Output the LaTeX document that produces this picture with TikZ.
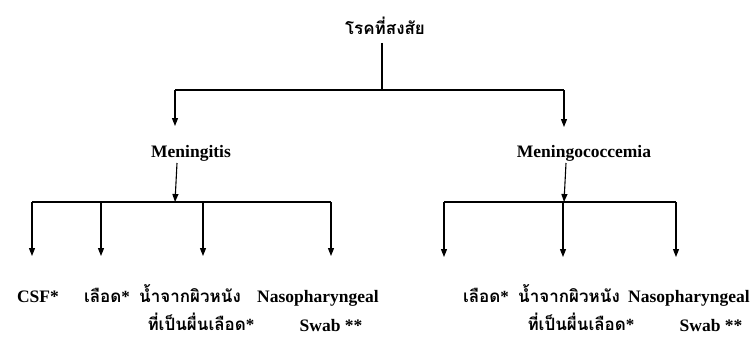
\documentclass[tikz,border=0pt]{standalone}
\usepackage{fontspec}
\setmainfont{Liberation Serif}
\newfontfamily\thai[Script=Thai]{Loma}
\newcommand{\myast}{{\rmfamily\bfseries *}}
\usetikzlibrary{arrows.meta}
\begin{document}
\begin{tikzpicture}[x=1pt,y=-1pt,
  conn/.style={line width=1.1pt},
  arr/.style={line width=1.1pt,-{Triangle[length=8pt,width=6pt]}},
  lat/.style={font=\fontsize{17.5}{20}\selectfont\bfseries, inner sep=0pt, anchor=base},
  th/.style={font=\fontsize{17}{19}\selectfont\thai\bfseries, inner sep=0pt, anchor=base}]
\useasboundingbox (0,0) rectangle (751,337);
% root
\node[th] (root) at (385,35) {โรคที่สงสัย};
\coordinate (rtop) at (382,43);
\coordinate (rj) at (382,90);
\coordinate (lj) at (175,90);
\coordinate (rrj) at (564,90);
\coordinate (ltip) at (175,126);
\coordinate (rtip) at (564,127);
\draw[conn] (rtop) -- (rj);
\draw[conn] (lj) -- (rrj);
\draw[arr] (lj) -- (ltip);
\draw[arr] (rrj) -- (rtip);
% level 2
\node[lat] (men) at (191,157) {Meningitis};
\node[lat] (mcc) at (584,157) {Meningococcemia};
\coordinate (mtop) at (177,163);
\coordinate (mbot) at (175,202);
\coordinate (ctop) at (566,163);
\coordinate (cbot) at (564,202);
\draw[arr] (mtop) -- (mbot);
\draw[arr] (ctop) -- (cbot);
% left group
\coordinate (a1) at (32,202);
\coordinate (a2) at (101,202);
\coordinate (a3) at (203,202);
\coordinate (a4) at (331,202);
\draw[conn] (a1) -- (a4);
\node[lat] (csf) at (38,302) {CSF*};
\node[th] (bl1) at (107,302) {เลือด\myast};
\node[th] (sk1) at (190,302) {น้ำจากผิวหนัง};
\node[th] (sk1b) at (201,330) {ที่เป็นผื่นเลือด\myast};
\node[lat] (np1) at (318,302) {Nasopharyngeal};
\node[lat] (sw1) at (331,331) {Swab **};
\draw[arr] (a1) -- (32,256);
\draw[arr] (a2) -- (101,256);
\draw[arr] (a3) -- (203,256);
\draw[arr] (a4) -- (331,256);
% right group
\coordinate (b1) at (444,202);
\coordinate (b2) at (563,202);
\coordinate (b3) at (676,202);
\draw[conn] (b1) -- (b3);
\node[th] (bl2) at (486,302) {เลือด\myast};
\node[th] (sk2) at (569,302) {น้ำจากผิวหนัง};
\node[th] (sk2b) at (581,330) {ที่เป็นผื่นเลือด\myast};
\node[lat] (np2) at (689,302) {Nasopharyngeal};
\node[lat] (sw2) at (711,331) {Swab **};
\draw[arr] (b1) -- (444,257);
\draw[arr] (b2) -- (563,257);
\draw[arr] (b3) -- (676,257);
\end{tikzpicture}
\end{document}
